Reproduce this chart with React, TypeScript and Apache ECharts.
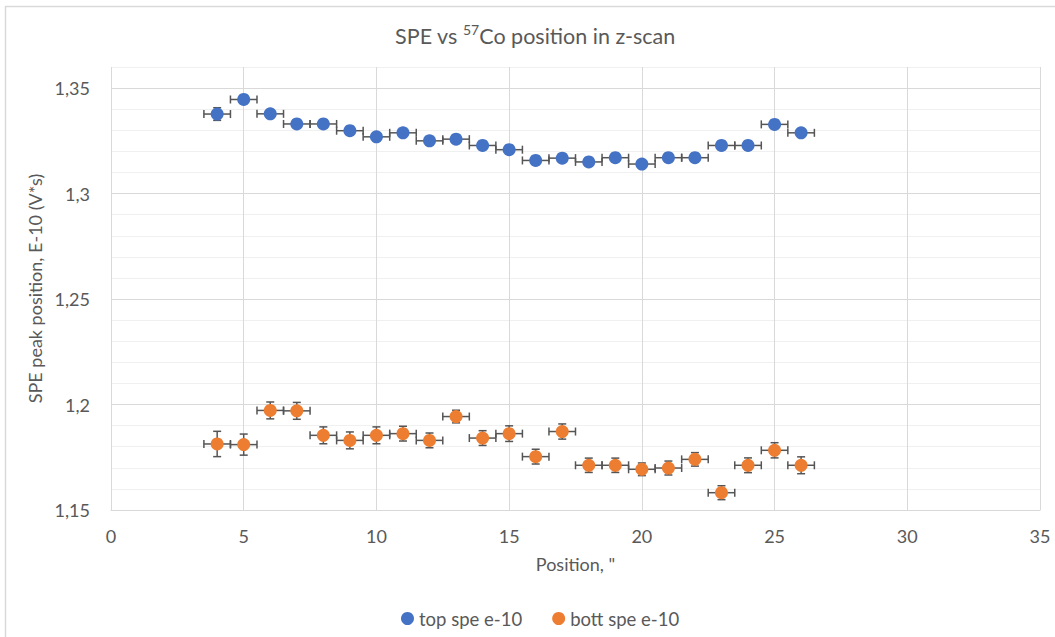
import React, { useEffect, useRef } from "react";
import * as echarts from "echarts";

const positions = [4, 5, 6, 7, 8, 9, 10, 11, 12, 13, 14, 15, 16, 17, 18, 19, 20, 21, 22, 23, 24, 25, 26];
const topValues = [1.3377, 1.3446, 1.3378, 1.333, 1.333, 1.3298, 1.3269, 1.3288, 1.325, 1.3258, 1.3228, 1.3208, 1.3157, 1.3168, 1.315, 1.317, 1.314, 1.317, 1.317, 1.3228, 1.3228, 1.3328, 1.3288];
const topYErr = [0.003, 0.002, 0.002, 0.002, 0.002, 0.002, 0.002, 0.002, 0.002, 0.002, 0.002, 0.002, 0.002, 0.002, 0.002, 0.002, 0.002, 0.002, 0.002, 0.002, 0.002, 0.002, 0.002];
const bottValues = [1.1813, 1.181, 1.1972, 1.197, 1.1854, 1.183, 1.1854, 1.1862, 1.183, 1.1943, 1.1841, 1.1862, 1.1753, 1.1872, 1.1712, 1.1712, 1.1693, 1.1699, 1.174, 1.1582, 1.1712, 1.1783, 1.1712];
const bottYErr = [0.006, 0.005, 0.004, 0.004, 0.004, 0.004, 0.004, 0.0035, 0.0035, 0.003, 0.0035, 0.0037, 0.0035, 0.0036, 0.0034, 0.0034, 0.003, 0.0033, 0.0032, 0.0033, 0.0035, 0.0036, 0.004];
const xErr = 0.5;

const xTicks = { min: 0, max: 35, interval: 5 };
const yTicks = { min: 1.15, max: 1.36, interval: 0.01 };

const FONT = "Lato";
const TXT = "#595959";

function errorSeries(values: number[], yerr: number[]) {
  return {
    type: "custom",
    silent: true,
    z: 1,
    encode: { x: 0, y: 1 },
    data: positions.map((p, i) => [p, values[i], xErr, yerr[i]]),
    renderItem: (params: any, api: any) => {
      const x = api.value(0);
      const y = api.value(1);
      const xe = api.value(2);
      const ye = api.value(3);
      const l = api.coord([x - xe, y]);
      const r = api.coord([x + xe, y]);
      const t = api.coord([x, y + ye]);
      const b = api.coord([x, y - ye]);
      const cap = 4;
      const style = { stroke: "#555555", lineWidth: 1.5 };
      return {
        type: "group",
        children: [
          { type: "line", shape: { x1: l[0], y1: l[1], x2: r[0], y2: r[1] }, style },
          { type: "line", shape: { x1: l[0], y1: l[1] - cap, x2: l[0], y2: l[1] + cap }, style },
          { type: "line", shape: { x1: r[0], y1: r[1] - cap, x2: r[0], y2: r[1] + cap }, style },
          { type: "line", shape: { x1: t[0], y1: t[1], x2: b[0], y2: b[1] }, style },
          { type: "line", shape: { x1: t[0] - cap, y1: t[1], x2: t[0] + cap, y2: t[1] }, style },
          { type: "line", shape: { x1: b[0] - cap, y1: b[1], x2: b[0] + cap, y2: b[1] }, style },
        ],
      };
    },
  };
}

export default function App() {
  const ref = useRef<HTMLDivElement>(null);
  useEffect(() => {
    if (!ref.current) return;
    const chart = echarts.init(ref.current, null, { renderer: "svg" });
    chart.setOption({
      animation: false,
      backgroundColor: "#ffffff",
      textStyle: { fontFamily: FONT },
      graphic: [
        {
          type: "rect",
          shape: { x: 5.5, y: 6.5, width: 1070, height: 650 },
          style: { fill: "none", stroke: "#d9d9d9", lineWidth: 1.5 },
          silent: true,
        },
        {
          type: "text",
          x: 535,
          y: 36,
          style: {
            text: "{a|SPE vs }{s|57}{a|Co position in z-scan}",
            align: "center",
            verticalAlign: "middle",
            rich: {
              a: { fontFamily: FONT, fontSize: 21.5, fill: TXT, lineHeight: 28 },
              s: { fontFamily: FONT, fontSize: 14, fill: TXT, verticalAlign: "top", lineHeight: 28, padding: [0, 0, 9, 0] },
            },
          },
        },
      ],
      legend: {
        left: 396,
        top: 604,
        itemWidth: 13,
        itemHeight: 13,
        itemGap: 30,
        icon: "circle",
        textStyle: { fontFamily: FONT, fontSize: 18.5, color: TXT },
        data: ["top spe e-10", "bott spe e-10"],
      },
      grid: { left: 111, top: 67, right: 15, bottom: 127 },
      xAxis: {
        type: "value",
        min: xTicks.min,
        max: xTicks.max,
        interval: xTicks.interval,
        name: 'Position, "',
        nameLocation: "middle",
        nameGap: 45,
        nameTextStyle: { fontFamily: FONT, fontSize: 18, color: TXT },
        axisLine: { show: true, lineStyle: { color: "#d9d9d9", width: 1 } },
        axisTick: { show: false },
        axisLabel: { fontFamily: FONT, fontSize: 18, color: TXT, margin: 17 },
        splitLine: { show: true, lineStyle: { color: "#d9d9d9", width: 1 } },
      },
      yAxis: {
        type: "value",
        min: yTicks.min,
        max: yTicks.max,
        interval: yTicks.interval,
        name: "SPE peak position, E-10 (V*s)",
        nameLocation: "middle",
        nameGap: 62,
        nameTextStyle: { fontFamily: FONT, fontSize: 18, color: TXT },
        axisLine: { show: false },
        axisTick: { show: false },
        axisLabel: {
          fontFamily: FONT,
          fontSize: 18,
          color: TXT,
          margin: 21,
          formatter: (v: number) => {
            const k = Math.round(v * 100);
            if (k % 5 !== 0) return "";
            return String(k / 100).replace(".", ",");
          },
        },
        splitLine: {
          show: true,
          lineStyle: { color: ["#d9d9d9", "#f0f0f0", "#f0f0f0", "#f0f0f0", "#f0f0f0"], width: 1 },
        },
      },
      series: [
        errorSeries(topValues, topYErr),
        errorSeries(bottValues, bottYErr),
        {
          name: "top spe e-10",
          type: "scatter",
          z: 3,
          symbolSize: 13,
          itemStyle: { color: "#4472C4", opacity: 1 },
          data: positions.map((p, i) => [p, topValues[i]]),
        },
        {
          name: "bott spe e-10",
          type: "scatter",
          z: 3,
          symbolSize: 13,
          itemStyle: { color: "#ED7D31", opacity: 1 },
          data: positions.map((p, i) => [p, bottValues[i]]),
        },
      ],
    });
    return () => chart.dispose();
  }, []);
  return (
    <div
      ref={ref}
      style={{ position: "fixed", left: 0, top: 0, width: 1055, height: 637 }}
    />
  );
}
